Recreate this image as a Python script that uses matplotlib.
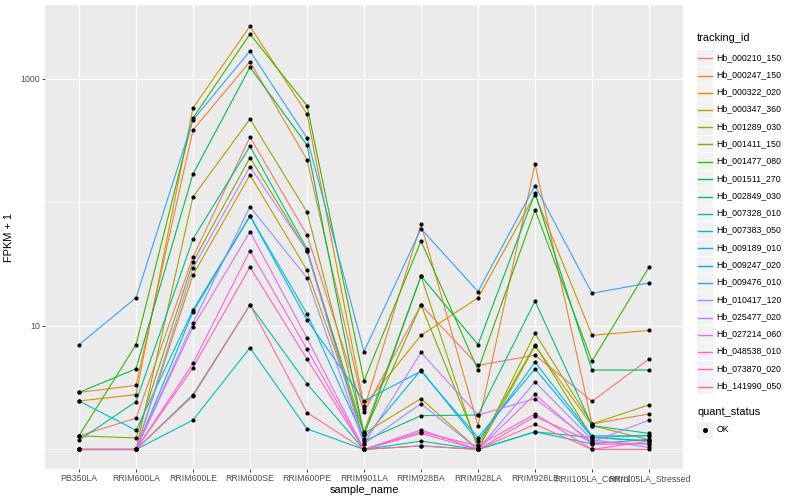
import matplotlib
matplotlib.use("Agg")
import matplotlib.pyplot as plt
from matplotlib.lines import Line2D
from matplotlib.patches import Rectangle

plt.rcParams["font.family"] = ["Liberation Sans", "DejaVu Sans"]

samples = ["PB350LA", "RRIM600LA", "RRIM600LE", "RRIM600SE", "RRIM600PE",
           "RRIM901LA", "RRIM928BA", "RRIM928LA", "RRIM928LE",
           "RRII105LA_Control", "RRII105LA_Stressed"]

tracking_ids = ["Hb_000210_150", "Hb_000247_150", "Hb_000322_020", "Hb_000347_360",
                "Hb_001289_030", "Hb_001411_150", "Hb_001477_080", "Hb_001511_270",
                "Hb_002849_030", "Hb_007328_010", "Hb_007383_050", "Hb_009189_010",
                "Hb_009247_020", "Hb_009476_010", "Hb_010417_120", "Hb_025477_020",
                "Hb_027214_060", "Hb_048538_010", "Hb_073870_020", "Hb_141990_050"]

# FPKM + 1 values, one list per gene (order follows `samples`)
hb_000210_150 = [1.29, 1.79, 36.2, 339, 54.6, 2.01, 14.8, 4.8, 5.8, 2.46, 5.4]
hb_000247_150 = [2.9, 3.3, 386, 1381, 222, 2.13, 67, 1.56, 204, 1.61, 1.94]
hb_000322_020 = [2.47, 2.78, 582, 2673, 521, 2.25, 8.4, 16.9, 116, 8.4, 9.2]
hb_000347_360 = [1.0, 1.0, 25.9, 167, 28.3, 1.35, 2.58, 1.0, 6.9, 1.56, 1.2]
hb_001289_030 = [1.0, 1.0, 111, 474, 83.7, 1.39, 25.4, 1.0, 8.7, 1.61, 2.3]
hb_001411_150 = [1.29, 1.24, 33, 231, 40.4, 1.35, 14.8, 1.08, 7.06, 1.25, 1.17]
hb_001477_080 = [1.29, 7.06, 483, 2312, 608, 3.6, 48.7, 4.4, 87, 5.2, 30]
hb_001511_270 = [2.9, 4.5, 170, 1244, 292, 1.3, 25.4, 7.06, 119, 4.4, 4.4]
hb_002849_030 = [1.19, 2.44, 50.6, 286, 42, 1.17, 1.88, 1.9, 15.9, 1.56, 1.35]
hb_007328_010 = [1.0, 1.0, 2.78, 14.8, 3.4, 1.0, 1.17, 1.0, 1.39, 1.25, 1.3]
hb_007383_050 = [1.0, 1.0, 1.73, 6.67, 1.47, 1.0, 1.07, 1.0, 1.39, 1.11, 1.21]
hb_009189_010 = [2.47, 1.43, 13.5, 77.8, 12.6, 1.22, 4.4, 1.17, 5.1, 1.29, 1.29]
hb_009247_020 = [1.0, 1.0, 13.0, 77.8, 11.2, 2.47, 4.3, 1.25, 4.5, 1.26, 1.17]
hb_009476_010 = [7.06, 16.9, 466, 1687, 333, 6.2, 61.4, 19, 137, 18.4, 22.3]
hb_010417_120 = [1.0, 1.0, 10.6, 92.5, 24.5, 1.11, 2.35, 1.0, 3.52, 1.2, 1.04]
hb_025477_020 = [1.0, 1.0, 29.5, 195, 40.4, 1.11, 6.1, 1.9, 2.58, 1.15, 1.73]
hb_027214_060 = [1.0, 1.0, 9.8, 58, 8.0, 1.0, 1.44, 1.0, 2.8, 1.1, 1.11]
hb_048538_010 = [1.0, 1.0, 5.0, 40.7, 6.5, 1.0, 1.39, 1.07, 1.94, 1.0, 1.17]
hb_073870_020 = [1.0, 1.0, 4.6, 30, 5.4, 1.0, 1.35, 1.0, 1.85, 1.15, 1.11]
hb_141990_050 = [1.0, 1.0, 2.71, 14.8, 1.99, 1.0, 1.07, 1.0, 1.6, 1.0, 1.0]

series = [hb_000210_150, hb_000247_150, hb_000322_020, hb_000347_360, hb_001289_030,
          hb_001411_150, hb_001477_080, hb_001511_270, hb_002849_030, hb_007328_010,
          hb_007383_050, hb_009189_010, hb_009247_020, hb_009476_010, hb_010417_120,
          hb_025477_020, hb_027214_060, hb_048538_010, hb_073870_020, hb_141990_050]

quant_status = ["OK"]

colors = ["#F8766D", "#EA8331", "#D89000", "#C09B00", "#A3A500", "#7CAE00", "#39B600",
          "#00BB4E", "#00BF7D", "#00C1A3", "#00BFC4", "#00BAE0", "#00B0F6", "#35A2FF",
          "#9590FF", "#C77CFF", "#E76BF3", "#FA62DB", "#FF62BC", "#FF6C91"]

W, H = 800, 500
fig = plt.figure(figsize=(W / 72, H / 72), dpi=72)
fig.patch.set_facecolor("white")

pl, pr, pt, pb = 45, 683, 5, 469
ax = fig.add_axes([pl / W, 1 - pb / H, (pr - pl) / W, (pb - pt) / H])
ax.set_facecolor("#EBEBEB")
for s in ax.spines.values():
    s.set_visible(False)

x = list(range(len(samples)))
for vals, col in zip(series, colors):
    ax.plot(x, vals, color=col, lw=1.1, zorder=3)
for vals in series:
    ax.scatter(x, vals, s=17, color="black", zorder=4, linewidths=0)

ax.set_yscale("log")
ax.set_ylim(0.695, 3972)
ax.set_xlim(-0.596, 10.596)

ax.set_yticks([10, 1000])
ax.set_yticklabels(["10", "1000"])
ax.set_yticks([1, 100], minor=True)
ax.yaxis.set_minor_formatter(plt.NullFormatter())
ax.set_xticks(x)
ax.set_xticklabels(samples)

ax.grid(True, which="major", color="white", lw=1.2, zorder=0)
ax.grid(True, which="minor", axis="y", color="white", lw=0.6, zorder=0)
ax.set_axisbelow(True)

ax.tick_params(axis="both", which="major", length=2.75, width=0.9, color="#333333",
               labelsize=8.8, labelcolor="#4D4D4D", pad=2.2)
ax.tick_params(axis="y", which="minor", length=0)

ax.set_xlabel("sample_name", fontsize=11, color="black", labelpad=2)
ax.set_ylabel("FPKM + 1", fontsize=11, color="black", labelpad=6)


def fx(px):
    return px / W


def fy(py):
    return 1 - py / H


# legend: tracking_id
fig.text(fx(697), fy(38), "tracking_id", fontsize=11, va="center", ha="left")
key_x0, key_w, step, y0 = 696, 17.3, 17.28, 57.3
for i, (tid, col) in enumerate(zip(tracking_ids, colors)):
    cy = y0 + i * step
    fig.patches.append(Rectangle((fx(key_x0), fy(cy + step / 2)), key_w / W, step / H,
                                 transform=fig.transFigure, facecolor="#F2F2F2",
                                 edgecolor="white", lw=1, zorder=1))
    ly = round(cy) + 0.5
    fig.lines.append(Line2D([fx(key_x0 + 1.7), fx(key_x0 + key_w - 1.7)], [fy(ly), fy(ly)],
                            transform=fig.transFigure, color=col, lw=1.4, zorder=5))
    fig.text(fx(716.5), fy(cy), tid, fontsize=8.8, va="center", ha="left")

# legend: quant_status
fig.text(fx(697), fy(412), "quant_status", fontsize=11, va="center", ha="left")
for j, q in enumerate(quant_status):
    cy = 430 + j * step
    fig.patches.append(Rectangle((fx(key_x0), fy(cy + step / 2)), key_w / W, step / H,
                                 transform=fig.transFigure, facecolor="#F2F2F2",
                                 edgecolor="white", lw=1, zorder=1))
    fig.lines.append(Line2D([fx(key_x0 + key_w / 2)], [fy(cy)], transform=fig.transFigure,
                            marker="o", markersize=4, color="black", lw=0, zorder=5))
    fig.text(fx(716.5), fy(cy), q, fontsize=8.8, va="center", ha="left")

fig.savefig("out.png", dpi=72)
